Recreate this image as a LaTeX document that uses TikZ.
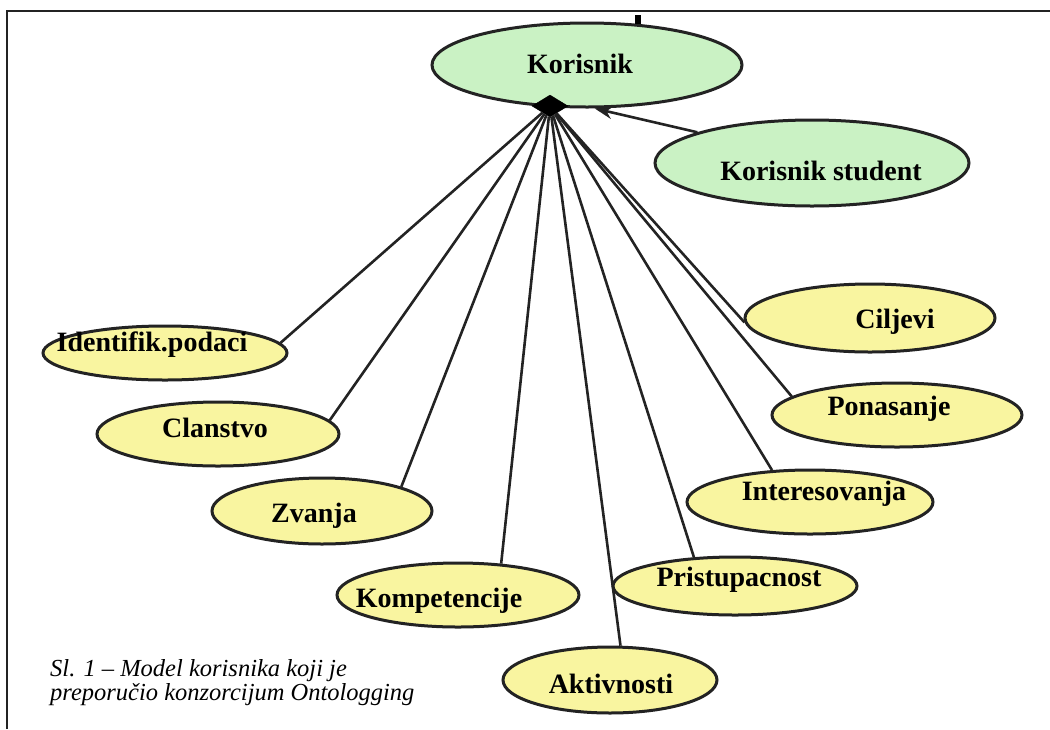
\documentclass[tikz,border=0pt]{standalone}
\usepackage{fontspec}
\setmainfont{Liberation Serif}
\usetikzlibrary{shapes.geometric,arrows.meta}
\definecolor{mint}{RGB}{202,242,196}
\definecolor{pale}{RGB}{249,245,160}
\definecolor{ink}{RGB}{35,35,35}
\tikzset{
  oval/.style={ellipse, draw=ink, line width=3pt, inner sep=0pt},
  cls/.style={oval, fill=pale},
  root/.style={oval, fill=mint},
  lbl/.style={font=\fontsize{28}{31}\selectfont\bfseries, anchor=base, inner sep=0pt},
  link/.style={draw=ink, line width=2.6pt},
  figcaption/.style={font=\fontsize{24.5}{27}\selectfont\itshape, anchor=base west, inner sep=0pt}
}
\begin{document}
\begin{tikzpicture}[x=1pt,y=-1pt]
\useasboundingbox (0,0) rectangle (1050,729);
% frame (top and left edges only)
\draw[line width=2pt, ink] (7,729) -- (7,11) -- (1050,11);

% ellipses
\node[root, minimum width=310, minimum height=84] (kor) at (587,65) {};
\node[root, minimum width=314, minimum height=86] (stu) at (812,163) {};
\node[cls, minimum width=244, minimum height=54] (ide) at (165,353) {};
\node[cls, minimum width=242, minimum height=64] (cla) at (218,434) {};
\node[cls, minimum width=220, minimum height=66] (zva) at (322,511) {};
\node[cls, minimum width=242, minimum height=64] (kom) at (458,595) {};
\node[cls, minimum width=214, minimum height=66] (akt) at (610,680) {};
\node[cls, minimum width=244, minimum height=58] (pri) at (735,586) {};
\node[cls, minimum width=246, minimum height=64] (int) at (810,502) {};
\node[cls, minimum width=250, minimum height=64] (pon) at (897,415) {};
\node[cls, minimum width=250, minimum height=68] (cil) at (870,318) {};

% labels
\node[lbl] (korT) at (580,73) {Korisnik};
\node[lbl] (stuT) at (821,180) {Korisnik student};
\node[lbl] (ideT) at (152,351) {Identifik.podaci};
\node[lbl] (claT) at (215,437) {Clanstvo};
\node[lbl] (zvaT) at (314,522) {Zvanja};
\node[lbl] (komT) at (439,607) {Kompetencije};
\node[lbl] (aktT) at (611,693) {Aktivnosti};
\node[lbl] (priT) at (739,586) {Pristupacnost};
\node[lbl] (intT) at (824,500) {Interesovanja};
\node[lbl] (ponT) at (889,415) {Ponasanje};
\node[lbl] (cilT) at (895,328) {Ciljevi};

% aggregation diamond under the root class
\node[diamond, fill=black, draw=black, inner sep=0pt, minimum width=36, minimum height=22] (dia) at (550,106) {};
\fill[black] (635,15) rectangle (641,24);

% part links
\draw[link] (dia) -- (ide.5);
\draw[link] (dia) -- (cla.7);
\draw[link] (dia) -- (zva.17);
\draw[link] (dia) -- (kom.36);
\draw[link] (dia) -- (akt.73);
\draw[link] (dia) -- (pri.145);
\draw[link] (dia) -- (int.140);
\draw[link] (dia) -- (pon.170);
\draw[link] (dia) -- (cil.182);

% specialisation
\draw[link, -{Stealth[length=18pt,width=13pt]}] (stu.165) -- (kor.-80);

% caption
\node[figcaption] (cap1) at (50,676) {Sl. 1 – Model korisnika koji je};
\node[figcaption] (cap2) at (50,700) {preporučio konzorcijum Ontologging};
\end{tikzpicture}
\end{document}
